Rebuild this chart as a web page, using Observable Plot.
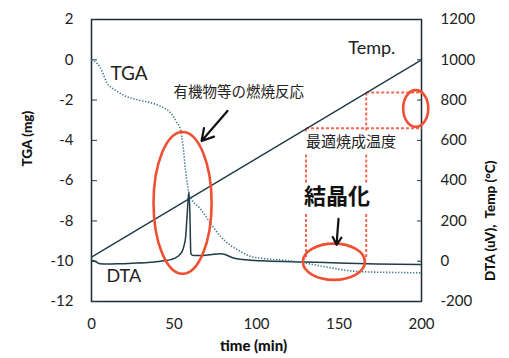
<!DOCTYPE html>
<html><head><meta charset="utf-8">
<script src="https://cdn.jsdelivr.net/npm/d3@7"></script>
<script src="https://cdn.jsdelivr.net/npm/@observablehq/plot@0.6"></script>
<style>body{margin:0;background:#fff;} svg{display:block}</style>
</head><body><div id="chart"></div>
<script>
// ---- data ----
const tgaTime  = [0,3,5.3,7.5,9.3,12,14.4,20.4,28.5,38.6,43,46.7,49.5,51.7,53.9,55.5,57,58.3,59.3,60.5,66,72,78,84,90,96,106,116,128,143,157,167,185,200];
const tgaValue = [0,-0.15,-0.39,-0.8,-1.14,-1.38,-1.51,-1.8,-2.0,-2.2,-2.35,-2.54,-2.8,-3.12,-3.45,-4.3,-5.5,-6.3,-6.7,-6.9,-7.4,-8.1,-8.75,-9.2,-9.5,-9.75,-9.88,-9.95,-10.07,-10.3,-10.48,-10.53,-10.56,-10.58];
const dtaTime  = [0,2,5,10,16,25,36,44,48,52,55,56,57,58,59,59.6,60.2,61,62,66,72,78,81,84,88,95,106,130,150,167,200];
const dtaValue = [5,0,-12,-14,-13,-10,-5,2,8,22,50,75,116,232,345,250,40,30,28,28,32,37,33,22,12,6,1,-4,-9,-13,-16];
const tempTime  = [0,200];
const tempValue = [20,1000];
const tgaTicks  = [2,0,-2,-4,-6,-8,-10,-12];
const rightTicks = [1200,1000,800,600,400,200,0,-200];
const timeTicks = [0,50,100,150,200];
// annotations
const firingLow = 660, firingHigh = 838, firingTimeLow = 130, firingTimeHigh = 166.5;
const dashGapsTemp = [[640,530],[386,234]]; // temp ranges where dashed verticals break for text
const dashBottomTemp = 10;
const ellT  = [55.5, 196.8, 147.2];
const ellV  = [-7.13, -2.44, -10.05];
const ellRT = [17.6, 7.6, 18.8];
const ellRV = [3.52, 0.91, 0.9];
const arrowT1 = [82.4, 149.7], arrowV1 = [-2.54, -7.9], arrowT2 = [66.7, 148.5], arrowV2 = [-4.03, -9.19];

// temperature / DTA -> left (TGA) axis units
const toY = d => d / 100 - 10;

const tga = tgaTime.map((t,i)=>({t, v: tgaValue[i]}));
const dta = dtaTime.map((t,i)=>({t, v: toY(dtaValue[i])}));
const temp = tempTime.map((t,i)=>({t, v: toY(tempValue[i])}));

// dashed segments
const segs = [];
segs.push({x1: firingTimeHigh, x2: 200, y1: toY(firingHigh), y2: toY(firingHigh)});
segs.push({x1: firingTimeLow, x2: 200, y1: toY(firingLow), y2: toY(firingLow)});
for (const [tx, top] of [[firingTimeLow, firingLow],[firingTimeHigh, firingHigh]]) {
  let cur = top;
  for (const [g1, g2] of dashGapsTemp) { segs.push({x1: tx, x2: tx, y1: toY(cur), y2: toY(g1)}); cur = g2; }
  segs.push({x1: tx, x2: tx, y1: toY(cur), y2: toY(dashBottomTemp)});
}

const ells = ellT.map((t,i)=>({t, v: ellV[i], rt: ellRT[i], rv: ellRV[i]}));
const arrows = arrowT1.map((t,i)=>({x1: t, y1: arrowV1[i], x2: arrowT2[i], y2: arrowV2[i]}));

const lat = "Lato, 'Noto Sans', sans-serif";
const cjk = "'Noto Sans CJK JP', sans-serif";
const ink = "#1f3b46";
const red = "#ef4f32";

const ellipseMark = (index, scales) => {
  const g = d3.create("svg:g");
  for (const e of ells) {
    const cx = scales.x(e.t), cy = scales.y(e.v);
    g.append("ellipse").attr("cx", cx).attr("cy", cy)
      .attr("rx", Math.abs(scales.x(e.t + e.rt) - cx))
      .attr("ry", Math.abs(scales.y(e.v + e.rv) - cy))
      .attr("fill", "none").attr("stroke", red).attr("stroke-width", 2.6);
  }
  return g.node();
};

const chart = Plot.plot({
  width: 509, height: 358,
  marginLeft: 91, marginRight: 88, marginTop: 19, marginBottom: 57,
  x: {domain: [0, 200]},
  y: {domain: [-12, 2]},
  style: {fontFamily: lat, background: "#fff", color: "#222"},
  marks: [
    Plot.frame({stroke: "#1b2a30", strokeWidth: 1.5}),
    // inward tick marks
    Plot.axisY(tgaTicks, {anchor: "left", tickSize: 6, dx: 6, tickFormat: () => "", label: null, stroke: ink}),
    Plot.axisY(rightTicks.map(toY), {anchor: "right", tickSize: 5, dx: -5, tickFormat: () => "", label: null, stroke: ink}),
    // tick labels
    Plot.axisY(tgaTicks, {anchor: "left", tickSize: 0, tickPadding: 18, fontSize: 15, label: null, fill: "#222", tickFormat: d => d < 0 ? "-" + Math.abs(d) : String(d)}),
    Plot.axisY(rightTicks.map(toY), {anchor: "right", tickSize: 0, tickPadding: 19, fontSize: 15, label: null, fill: "#222", tickFormat: d => { const v = Math.round((d + 10) * 100); return v < 0 ? "-" + Math.abs(v) : String(v); }}),
    Plot.axisX(timeTicks, {anchor: "bottom", tickSize: 0, tickPadding: 17, fontSize: 15, label: null, fill: "#222"}),
    // axis titles
    Plot.text(["TGA (mg)"], {frameAnchor: "left", dx: -64, dy: 6, rotate: -90, fontSize: 13.5, fontWeight: "900", fill: "#111"}),
    Plot.text(["DTA (uV),  Temp (°C)"], {frameAnchor: "right", dx: 69, dy: 0, rotate: -90, fontSize: 13.5, fontWeight: "900", fill: "#111"}),
    Plot.text(["time (min)"], {frameAnchor: "bottom", dx: -3, dy: 49, fontSize: 15, fontWeight: "900", fill: "#111"}),
    // dashed annotation lines
    Plot.link(segs, {x1: "x1", y1: "y1", x2: "x2", y2: "y2", stroke: "#f26a55", strokeWidth: 2, strokeDasharray: "3,2"}),
    // data
    Plot.line(temp, {x: "t", y: "v", stroke: ink, strokeWidth: 1.4}),
    Plot.line(dta, {x: "t", y: "v", stroke: ink, strokeWidth: 1.5, curve: "monotone-x"}),
    Plot.line(tga, {x: "t", y: "v", stroke: "#3d7587", strokeWidth: 1.6, strokeDasharray: "1.3,1.7", strokeLinecap: "butt", curve: "monotone-x"}),
    // ellipses
    ellipseMark,
    // arrows
    Plot.arrow(arrows, {x1: "x1", y1: "y1", x2: "x2", y2: "y2", stroke: "#111", strokeWidth: 2.2, headLength: 9}),
    // labels
    Plot.text(["TGA"], {x: 11.5, y: -0.68, textAnchor: "start", fontSize: 19, fill: "#222"}),
    Plot.text(["DTA"], {x: 9.1, y: -10.75, textAnchor: "start", fontSize: 18, fill: "#222"}),
    Plot.text(["Temp."], {x: 155.6, y: 0.56, textAnchor: "start", fontSize: 18, fill: "#222"}),
    Plot.text(["有機物等の燃焼反応"], {x: 89.3, y: -1.62, fontSize: 14.5, fontFamily: cjk, fill: "#222"}),
    Plot.text(["最適焼成温度"], {x: 157.3, y: -4.08, fontSize: 15, fontFamily: cjk, fill: "#222"}),
    Plot.text(["結晶化"], {x: 148.8, y: -6.81, fontSize: 22, fontWeight: "bold", fontFamily: cjk, fill: "#111"})
  ]
});
document.getElementById("chart").appendChild(chart);
</script></body></html>
